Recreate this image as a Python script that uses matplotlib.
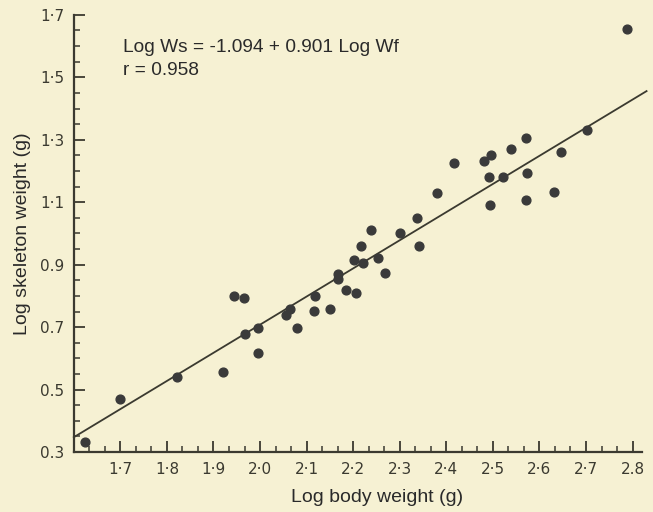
import numpy as np
import matplotlib
matplotlib.use('Agg')
from matplotlib import pyplot as plt
from matplotlib.ticker import MultipleLocator

# Data
log_body = [1.624, 1.699, 1.822, 1.920, 1.945, 1.965, 1.967, 1.995, 1.996,
            2.055, 2.065, 2.080, 2.117, 2.115, 2.151, 2.168, 2.167, 2.184,
            2.206, 2.201, 2.221, 2.254, 2.268, 2.217, 2.238, 2.300, 2.342,
            2.338, 2.380, 2.416, 2.481, 2.496, 2.492, 2.494, 2.521, 2.538,
            2.572, 2.574, 2.571, 2.631, 2.647, 2.703, 2.789]
log_skeleton = [0.332, 0.471, 0.540, 0.556, 0.800, 0.792, 0.677, 0.698, 0.616,
                0.739, 0.758, 0.698, 0.800, 0.753, 0.759, 0.869, 0.853, 0.818,
                0.808, 0.916, 0.906, 0.922, 0.872, 0.960, 1.011, 1.001, 0.959,
                1.050, 1.128, 1.226, 1.233, 1.252, 1.180, 1.091, 1.181, 1.269,
                1.307, 1.195, 1.108, 1.133, 1.260, 1.332, 1.654]

intercept = -1.094
slope = 0.901

x_ticks = [1.7, 1.8, 1.9, 2.0, 2.1, 2.2, 2.3, 2.4, 2.5, 2.6, 2.7, 2.8]
x_labels = ['1·7', '1·8', '1·9', '2·0', '2·1', '2·2', '2·3', '2·4', '2·5', '2·6', '2·7', '2.8']
y_ticks = [0.3, 0.5, 0.7, 0.9, 1.1, 1.3, 1.5, 1.7]
y_labels = ['0.3', '0.5', '0.7', '0.9', '1·1', '1·3', '1·5', '1·7']

paper = '#f6f1d3'
ink = '#3b3a30'

fig = plt.figure(figsize=(6.53, 5.12), dpi=100, facecolor=paper)
ax = fig.add_axes([0.113, 0.117, 0.870, 0.854])
ax.set_facecolor(paper)

# regression line
xl = np.array([1.6, 2.83])
ax.plot(xl, intercept + slope * xl, color=ink, lw=1.3, clip_on=False, zorder=2)

ax.scatter(log_body, log_skeleton, s=40, color='#3a3a3a', zorder=3, clip_on=False)

ax.set_xlim(1.6, 2.82)
ax.set_ylim(0.3, 1.7)
ax.set_xticks(x_ticks)
ax.set_xticklabels(x_labels)
ax.set_yticks(y_ticks)
ax.set_yticklabels(y_labels)
ax.xaxis.set_minor_locator(MultipleLocator(0.1 / 3))
ax.yaxis.set_minor_locator(MultipleLocator(0.05))

for s in ['top', 'right']:
    ax.spines[s].set_visible(False)
for s in ['left', 'bottom']:
    ax.spines[s].set_color(ink)
    ax.spines[s].set_linewidth(1.6)

ax.tick_params(which='major', direction='in', length=8, width=1.3, color=ink,
               labelsize=11, labelcolor=ink, pad=7)
ax.tick_params(which='minor', direction='in', length=4, width=1.1, color=ink)

ax.set_xlabel('Log body weight (g)', fontsize=14, family='Liberation Sans', color='#2a2a2a')
ax.xaxis.set_label_coords(0.533, -0.085)
ax.set_ylabel('Log skeleton weight (g)', fontsize=14, family='Liberation Sans', color='#2a2a2a', labelpad=6)

ax.text(0.086, 0.945, 'Log Ws = -1.094 + 0.901 Log Wf', transform=ax.transAxes,
        fontsize=13.8, family='Liberation Sans', color='#2a2a2a', va='top')
ax.text(0.086, 0.892, 'r = 0.958', transform=ax.transAxes,
        fontsize=13.8, family='Liberation Sans', color='#2a2a2a', va='top')

fig.savefig('out.png', dpi=100, facecolor=paper)
